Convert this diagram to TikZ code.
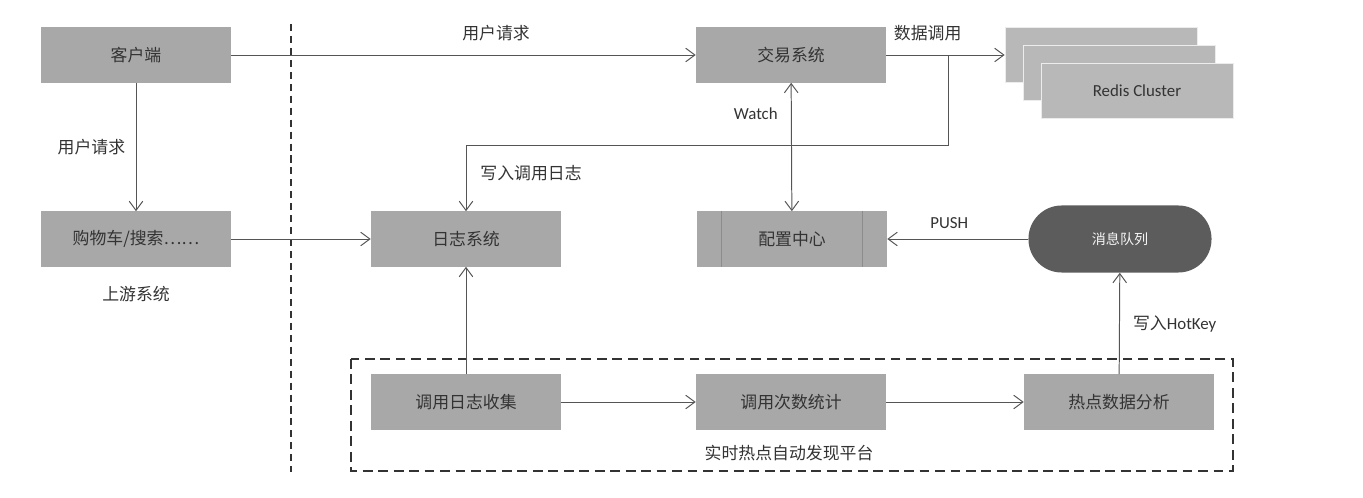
\documentclass[tikz,border=0pt]{standalone}
\usepackage{fontspec}
\setmainfont{Carlito}
\newfontfamily\cjk{Noto Sans CJK SC}
\usepackage{tikz}
\usetikzlibrary{calc,arrows.meta}
\definecolor{ink}{HTML}{333333}
\definecolor{wirecol}{HTML}{555555}
\definecolor{boxgray}{HTML}{A8A8A8}
\definecolor{redisgray}{HTML}{B8B8B8}
\definecolor{queue}{HTML}{5C5C5C}
\tikzset{
  sys/.style={fill=boxgray, text=ink, minimum width=4.75cm, minimum height=1.375cm, inner sep=0pt, font=\cjk\fontsize{12}{14}\selectfont},
  redis/.style={fill=redisgray, draw=white!85!gray, line width=0.5pt, text=ink, minimum width=4.8cm, minimum height=1.375cm, inner sep=0pt, font=\fontsize{12}{14}\selectfont},
  mq/.style={fill=queue, text=white!92!gray, minimum width=4.575cm, minimum height=1.675cm, rounded corners=0.83cm, inner sep=0pt, font=\cjk\fontsize{10}{12}\selectfont},
  wire/.style={draw=wirecol, line width=0.7pt},
  flow/.style={wire, -{Straight Barb[length=2.3mm,width=3.4mm]}},
  both/.style={wire, {Straight Barb[length=2.3mm,width=3.4mm]}-{Straight Barb[length=2.3mm,width=3.4mm]}},
  lab/.style={text=ink, font=\cjk\fontsize{12}{14}\selectfont},
  labl/.style={text=ink, font=\fontsize{12}{14}\selectfont},
  border/.style={draw=ink, line width=2pt, dash pattern=on 5pt off 3.5pt},
  frame/.style={draw=ink, line width=1.5pt, dash pattern=on 7pt off 4pt},
  seam/.style={draw=black!45, line width=0.4pt},
}
\begin{document}
\begin{tikzpicture}[x=0.025cm, y=-0.025cm]
  \useasboundingbox (0,0) rectangle (1363,498);
  % left side
  \node[sys] (client) at (136,55) {客户端};
  \node[sys] (cart) at (136,239) {购物车/搜索……};
  \node[lab] (upstream) at (136,294) {上游系统};
  \draw[border] (291,24) coordinate (divtop) -- (291,472) coordinate (divbot);
  % main systems
  \node[sys] (trade) at (791,55) {交易系统};
  \node[sys] (logsys) at (466,239) {日志系统};
  \node[sys] (cfg) at (792,239) {配置中心};
  \draw[seam] ($(cfg.north west)+(25,0)$) -- ($(cfg.south west)+(25,0)$);
  \draw[seam] ($(cfg.north east)+(-25,0)$) -- ($(cfg.south east)+(-25,0)$);
  \node[redis] (redisA) at (1101,55) {};
  \node[redis] (redisB) at (1119,73) {};
  \node[redis] (redisC) at (1137,91) {Redis Cluster};
  \node[mq] (queue) at (1120,239) {消息队列};
  % hotkey platform
  \draw[frame] (351,359) rectangle (1233,471);
  \node[sys] (collect) at (466,402) {调用日志收集};
  \node[sys] (count) at (791,402) {调用次数统计};
  \node[sys] (hotspot) at (1119,402) {热点数据分析};
  \node[lab] (platform) at (789,453) {实时热点自动发现平台};
  % connectors
  \draw[flow] (client) -- node[lab, above=6pt, pos=0.57] (reqtop) {用户请求} (trade);
  \draw[flow] (client) -- node[lab, left=4pt, pos=0.5] (reqleft) {用户请求} (cart);
  \draw[flow] (cart) -- (logsys);
  \draw[flow] (trade) -- node[lab, above=6pt, pos=0.35] (datacall) {数据调用} (redisA);
  \coordinate (split) at (948,55);
  \draw[flow] (split) -- ++(0,90) coordinate (bend) -| (logsys.north);
  \node[lab] (writelog) at (531,173) {写入调用日志};
  \draw[both] (trade) -- node[labl, left=6pt, pos=0.24] (watch) {Watch} (cfg);
  \draw[flow] (queue) -- node[labl, above=4pt, pos=0.56] (push) {PUSH} (cfg);
  \draw[flow] (collect) -- (logsys);
  \draw[flow] (collect) -- (count);
  \draw[flow] (count) -- (hotspot);
  \draw[flow] (hotspot) -- node[labl, right=6pt, pos=0.5] (writehot) {{\cjk 写入}HotKey} (queue);
\end{tikzpicture}
\end{document}
